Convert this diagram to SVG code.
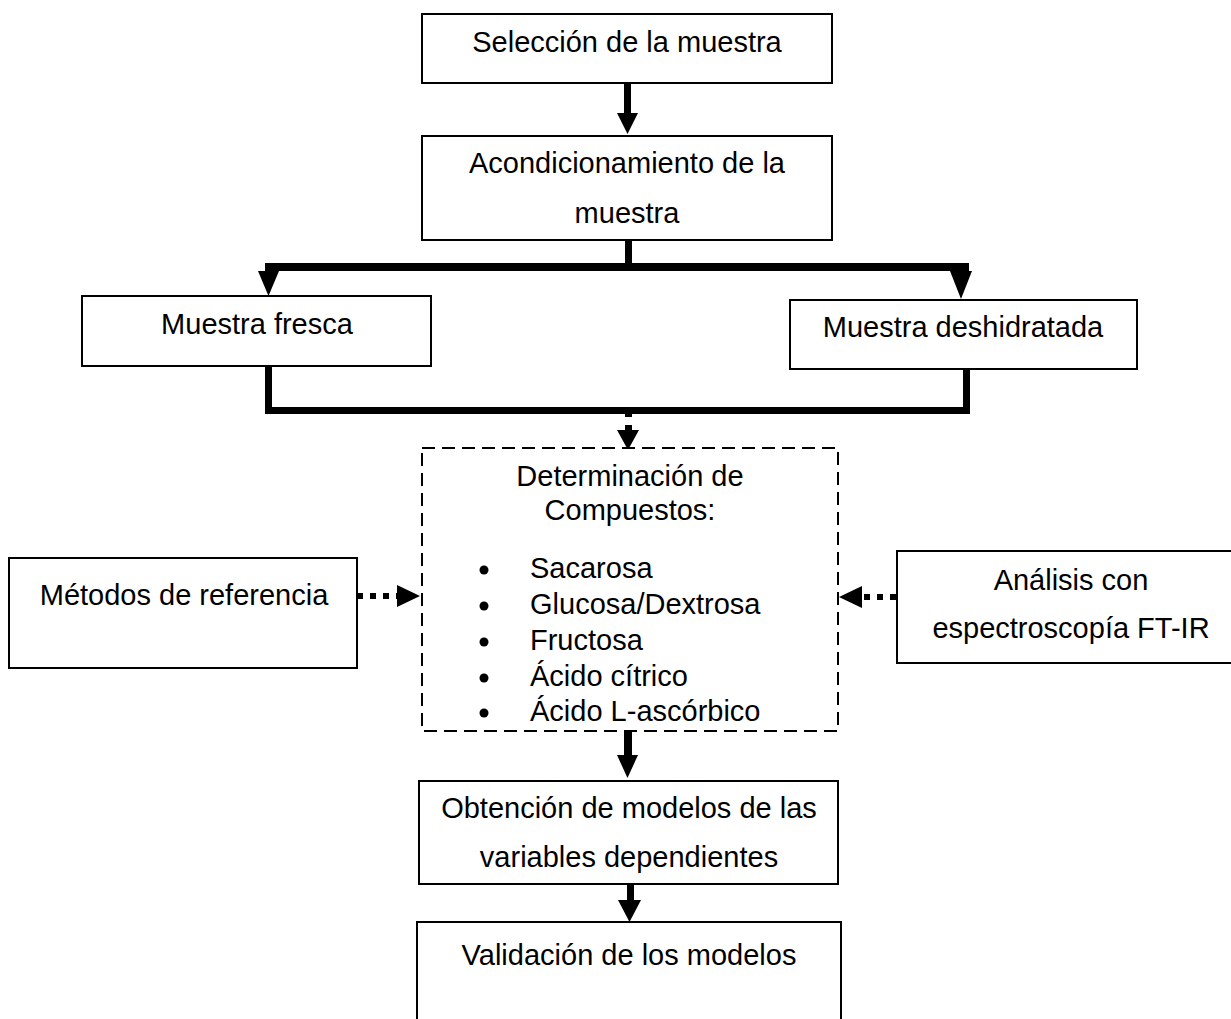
<svg xmlns="http://www.w3.org/2000/svg" width="1231" height="1019" viewBox="0 0 1231 1019">
<style>
.box{fill:#fff;stroke:#000;stroke-width:2}
.dbox{fill:#fff;stroke:#000;stroke-width:2;stroke-dasharray:13,7}
text{font-family:"Liberation Sans",Arial,sans-serif;font-size:29px;fill:#000}
.c{text-anchor:middle}
.k{fill:#000;stroke:none}
.dot{stroke:#000;stroke-width:6;fill:none;stroke-dasharray:6,7}
</style>
<rect width="1231" height="1019" fill="#fff"/>
<g id="connectors">
<rect class="k" x="624" y="83" width="7" height="32"/>
<polygon class="k" points="617,113 638,113 627.5,134"/>
<rect class="k" x="625" y="240" width="7" height="28"/>
<rect class="k" x="265" y="263" width="704" height="8"/>
<polygon class="k" points="258,271 279,271 268.5,296"/>
<polygon class="k" points="950,271 972,271 961,299"/>
<rect class="k" x="265" y="366" width="7" height="48"/>
<rect class="k" x="963" y="369" width="7" height="45"/>
<rect class="k" x="265" y="407" width="705" height="7"/>
<rect class="k" x="625" y="414" width="7" height="3"/>
<rect class="k" x="625" y="425" width="7" height="6"/>
<polygon class="k" points="617,430 639,430 628,450"/>
<line class="dot" x1="357" y1="596" x2="398" y2="596"/>
<polygon class="k" points="397,585 397,607 420,596"/>
<line class="dot" x1="896" y1="597" x2="860" y2="597"/>
<polygon class="k" points="862,586 862,608 839,597"/>
<rect class="k" x="624" y="731" width="8" height="26"/>
<polygon class="k" points="617,755 638,755 627.5,778"/>
<rect class="k" x="627" y="882" width="7" height="20"/>
<polygon class="k" points="618,900 641,900 629.5,922"/>
</g>
<g id="n1"><rect class="box" x="422" y="14" width="410" height="69"/><text class="c" x="627" y="52">Selección de la muestra</text></g>
<g id="n2"><rect class="box" x="422" y="136" width="410" height="104"/><text class="c" x="627" y="173">Acondicionamiento de la</text><text class="c" x="627" y="223">muestra</text></g>
<g id="n3"><rect class="box" x="82" y="296" width="349" height="70"/><text class="c" x="257" y="334">Muestra fresca</text></g>
<g id="n4"><rect class="box" x="790" y="300" width="347" height="69"/><text class="c" x="963" y="337">Muestra deshidratada</text></g>
<g id="n5"><rect class="dbox" x="422" y="448" width="416" height="283"/>
<text class="c" x="630" y="486">Determinación de</text>
<text class="c" x="630" y="520">Compuestos:</text>
<circle class="k" cx="484" cy="570" r="4.5"/><text x="530" y="578">Sacarosa</text>
<circle class="k" cx="484" cy="606" r="4.5"/><text x="530" y="614">Glucosa/Dextrosa</text>
<circle class="k" cx="484" cy="642" r="4.5"/><text x="530" y="650">Fructosa</text>
<circle class="k" cx="484" cy="678" r="4.5"/><text x="530" y="686">Ácido cítrico</text>
<circle class="k" cx="484" cy="713" r="4.5"/><text x="530" y="721">Ácido L-ascórbico</text>
</g>
<g id="n6"><rect class="box" x="9" y="558" width="348" height="110"/><text class="c" x="184" y="605">Métodos de referencia</text></g>
<g id="n7"><rect class="box" x="897" y="551" width="345" height="112"/><text class="c" x="1071" y="590">Análisis con</text><text class="c" x="1071" y="638">espectroscopía FT-IR</text></g>
<g id="n8"><rect class="box" x="419" y="781" width="419" height="103"/><text class="c" x="629" y="818">Obtención de modelos de las</text><text class="c" x="629" y="867">variables dependientes</text></g>
<g id="n9"><rect class="box" x="417" y="922" width="424" height="110"/><text class="c" x="629" y="965">Validación de los modelos</text></g>
</svg>
